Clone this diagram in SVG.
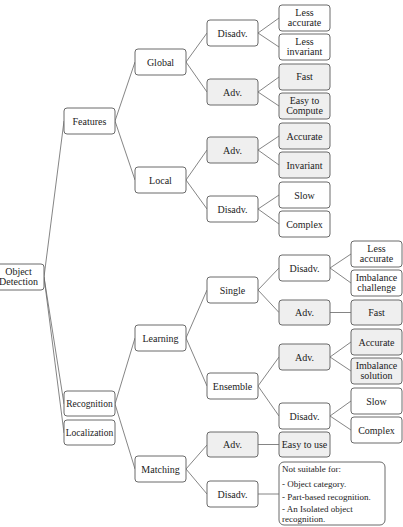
<svg xmlns="http://www.w3.org/2000/svg" width="403" height="527" viewBox="0 0 403 527">
<style>
.n rect{fill:#fff;stroke:#6a6a6a;stroke-width:1}
.g rect{fill:#efefef}
text{font-family:"Liberation Serif","Times New Roman",serif;font-size:10px;fill:#222;text-anchor:middle}
.note text{text-anchor:start;font-size:9px}
#edges line{stroke:#666;stroke-width:0.8}
</style>
<rect width="403" height="527" fill="#fff"/>
<g id="edges">
<line x1="44" y1="277" x2="64" y2="121"/>
<line x1="44" y1="277" x2="64" y2="404"/>
<line x1="44" y1="277" x2="64" y2="433"/>
<line x1="115" y1="121" x2="135" y2="62"/>
<line x1="115" y1="121" x2="135" y2="180"/>
<line x1="115" y1="404" x2="135" y2="338"/>
<line x1="115" y1="404" x2="135" y2="469"/>
<line x1="186" y1="62" x2="207" y2="33"/>
<line x1="186" y1="62" x2="207" y2="92"/>
<line x1="186" y1="180" x2="207" y2="150"/>
<line x1="186" y1="180" x2="207" y2="209"/>
<line x1="186" y1="338" x2="207" y2="290"/>
<line x1="186" y1="338" x2="207" y2="386"/>
<line x1="186" y1="469" x2="207" y2="445"/>
<line x1="186" y1="469" x2="207" y2="494"/>
<line x1="258" y1="33" x2="279" y2="18"/>
<line x1="258" y1="33" x2="279" y2="47"/>
<line x1="258" y1="92" x2="279" y2="77"/>
<line x1="258" y1="92" x2="279" y2="106"/>
<line x1="258" y1="150" x2="279" y2="136"/>
<line x1="258" y1="150" x2="279" y2="165"/>
<line x1="258" y1="209" x2="279" y2="195"/>
<line x1="258" y1="209" x2="279" y2="224"/>
<line x1="258" y1="290" x2="279" y2="268"/>
<line x1="258" y1="290" x2="279" y2="312.5"/>
<line x1="258" y1="386" x2="279" y2="357"/>
<line x1="258" y1="386" x2="279" y2="416"/>
<line x1="258" y1="444.5" x2="279" y2="444.5"/>
<line x1="258" y1="494" x2="279" y2="494"/>
<line x1="330" y1="268" x2="351" y2="254"/>
<line x1="330" y1="268" x2="351" y2="283"/>
<line x1="330" y1="312.5" x2="351" y2="312.5"/>
<line x1="330" y1="357" x2="351" y2="342"/>
<line x1="330" y1="357" x2="351" y2="371"/>
<line x1="330" y1="416" x2="351" y2="401"/>
<line x1="330" y1="416" x2="351" y2="430"/>
</g>
<g id="od" class="n"><rect x="-7" y="264" width="51" height="26" rx="3"/><text x="18.5" y="275">Object</text><text x="18.5" y="285">Detection</text></g>
<g id="features" class="n"><rect x="64" y="108" width="51" height="26" rx="3"/><text x="89.5" y="124.5">Features</text></g>
<g id="recognition" class="n"><rect x="64" y="391" width="51" height="25" rx="3"/><text x="89.5" y="407" style="font-size:9.5px">Recognition</text></g>
<g id="localization" class="n"><rect x="64" y="420" width="51" height="25" rx="3"/><text x="89.5" y="436" style="font-size:9.5px">Localization</text></g>
<g id="global" class="n"><rect x="135" y="49" width="51" height="26" rx="3"/><text x="160.5" y="65.5">Global</text></g>
<g id="local" class="n"><rect x="135" y="167" width="51" height="26" rx="3"/><text x="160.5" y="183.5">Local</text></g>
<g id="learning" class="n"><rect x="135" y="325" width="51" height="26" rx="3"/><text x="160.5" y="341.5">Learning</text></g>
<g id="matching" class="n"><rect x="135" y="456" width="51" height="26" rx="3"/><text x="160.5" y="472.5">Matching</text></g>
<g id="g-dis" class="n"><rect x="207" y="20" width="51" height="26" rx="3"/><text x="232.5" y="36.5">Disadv.</text></g>
<g id="g-adv" class="n g"><rect x="207" y="79" width="51" height="26" rx="3"/><text x="232.5" y="95.5">Adv.</text></g>
<g id="l-adv" class="n g"><rect x="207" y="137" width="51" height="26" rx="3"/><text x="232.5" y="153.5">Adv.</text></g>
<g id="l-dis" class="n"><rect x="207" y="196" width="51" height="26" rx="3"/><text x="232.5" y="212.5">Disadv.</text></g>
<g id="single" class="n"><rect x="207" y="277" width="51" height="26" rx="3"/><text x="232.5" y="293.5">Single</text></g>
<g id="ensemble" class="n"><rect x="207" y="373" width="51" height="26" rx="3"/><text x="232.5" y="389.5">Ensemble</text></g>
<g id="m-adv" class="n g"><rect x="207" y="432" width="51" height="25" rx="3"/><text x="232.5" y="448">Adv.</text></g>
<g id="m-dis" class="n"><rect x="207" y="481" width="51" height="26" rx="3"/><text x="232.5" y="497.5">Disadv.</text></g>
<g id="g-less-acc" class="n"><rect x="279" y="5" width="51" height="26" rx="3"/><text x="304.5" y="16">Less</text><text x="304.5" y="26">accurate</text></g>
<g id="g-less-inv" class="n"><rect x="279" y="34" width="51" height="26" rx="3"/><text x="304.5" y="45">Less</text><text x="304.5" y="55">invariant</text></g>
<g id="g-fast" class="n g"><rect x="279" y="64" width="51" height="26" rx="3"/><text x="304.5" y="80">Fast</text></g>
<g id="g-easy" class="n g"><rect x="279" y="93" width="51" height="26" rx="3"/><text x="304.5" y="104">Easy to</text><text x="304.5" y="114">Compute</text></g>
<g id="l-acc" class="n g"><rect x="279" y="123" width="51" height="26" rx="3"/><text x="304.5" y="139.5">Accurate</text></g>
<g id="l-inv" class="n g"><rect x="279" y="152" width="51" height="26" rx="3"/><text x="304.5" y="168.5">Invariant</text></g>
<g id="l-slow" class="n"><rect x="279" y="182" width="51" height="26" rx="3"/><text x="304.5" y="198.5">Slow</text></g>
<g id="l-complex" class="n"><rect x="279" y="211" width="51" height="26" rx="3"/><text x="304.5" y="227.5">Complex</text></g>
<g id="s-dis" class="n"><rect x="279" y="255" width="51" height="26" rx="3"/><text x="304.5" y="271.5">Disadv.</text></g>
<g id="s-adv" class="n g"><rect x="279" y="300" width="51" height="25" rx="3"/><text x="304.5" y="316">Adv.</text></g>
<g id="e-adv" class="n g"><rect x="279" y="344" width="51" height="26" rx="3"/><text x="304.5" y="360.5">Adv.</text></g>
<g id="e-dis" class="n"><rect x="279" y="403" width="51" height="26" rx="3"/><text x="304.5" y="419.5">Disadv.</text></g>
<g id="m-easy" class="n g"><rect x="279" y="432" width="51" height="25" rx="3"/><text x="304.5" y="448">Easy to use</text></g>
<g id="m-note" class="n note"><rect x="279" y="462" width="106" height="63" rx="5"/><text x="282" y="472">Not suitable for:</text><text x="282" y="487">- Object category.</text><text x="282" y="500">- Part-based recognition.</text><text x="282" y="512">- An Isolated object</text><text x="282" y="522">recognition.</text></g>
<g id="s-less-acc" class="n"><rect x="351" y="241" width="51" height="26" rx="3"/><text x="376.5" y="252">Less</text><text x="376.5" y="262">accurate</text></g>
<g id="s-imb" class="n"><rect x="351" y="270" width="51" height="26" rx="3"/><text x="376.5" y="281">Imbalance</text><text x="376.5" y="291">challenge</text></g>
<g id="s-fast" class="n g"><rect x="351" y="300" width="51" height="25" rx="3"/><text x="376.5" y="316">Fast</text></g>
<g id="e-acc" class="n g"><rect x="351" y="329" width="51" height="26" rx="3"/><text x="376.5" y="345.5">Accurate</text></g>
<g id="e-imb" class="n g"><rect x="351" y="358" width="51" height="26" rx="3"/><text x="376.5" y="369">Imbalance</text><text x="376.5" y="379">solution</text></g>
<g id="e-slow" class="n"><rect x="351" y="388" width="51" height="26" rx="3"/><text x="376.5" y="404.5">Slow</text></g>
<g id="e-complex" class="n"><rect x="351" y="417" width="51" height="26" rx="3"/><text x="376.5" y="433.5">Complex</text></g>
</svg>
